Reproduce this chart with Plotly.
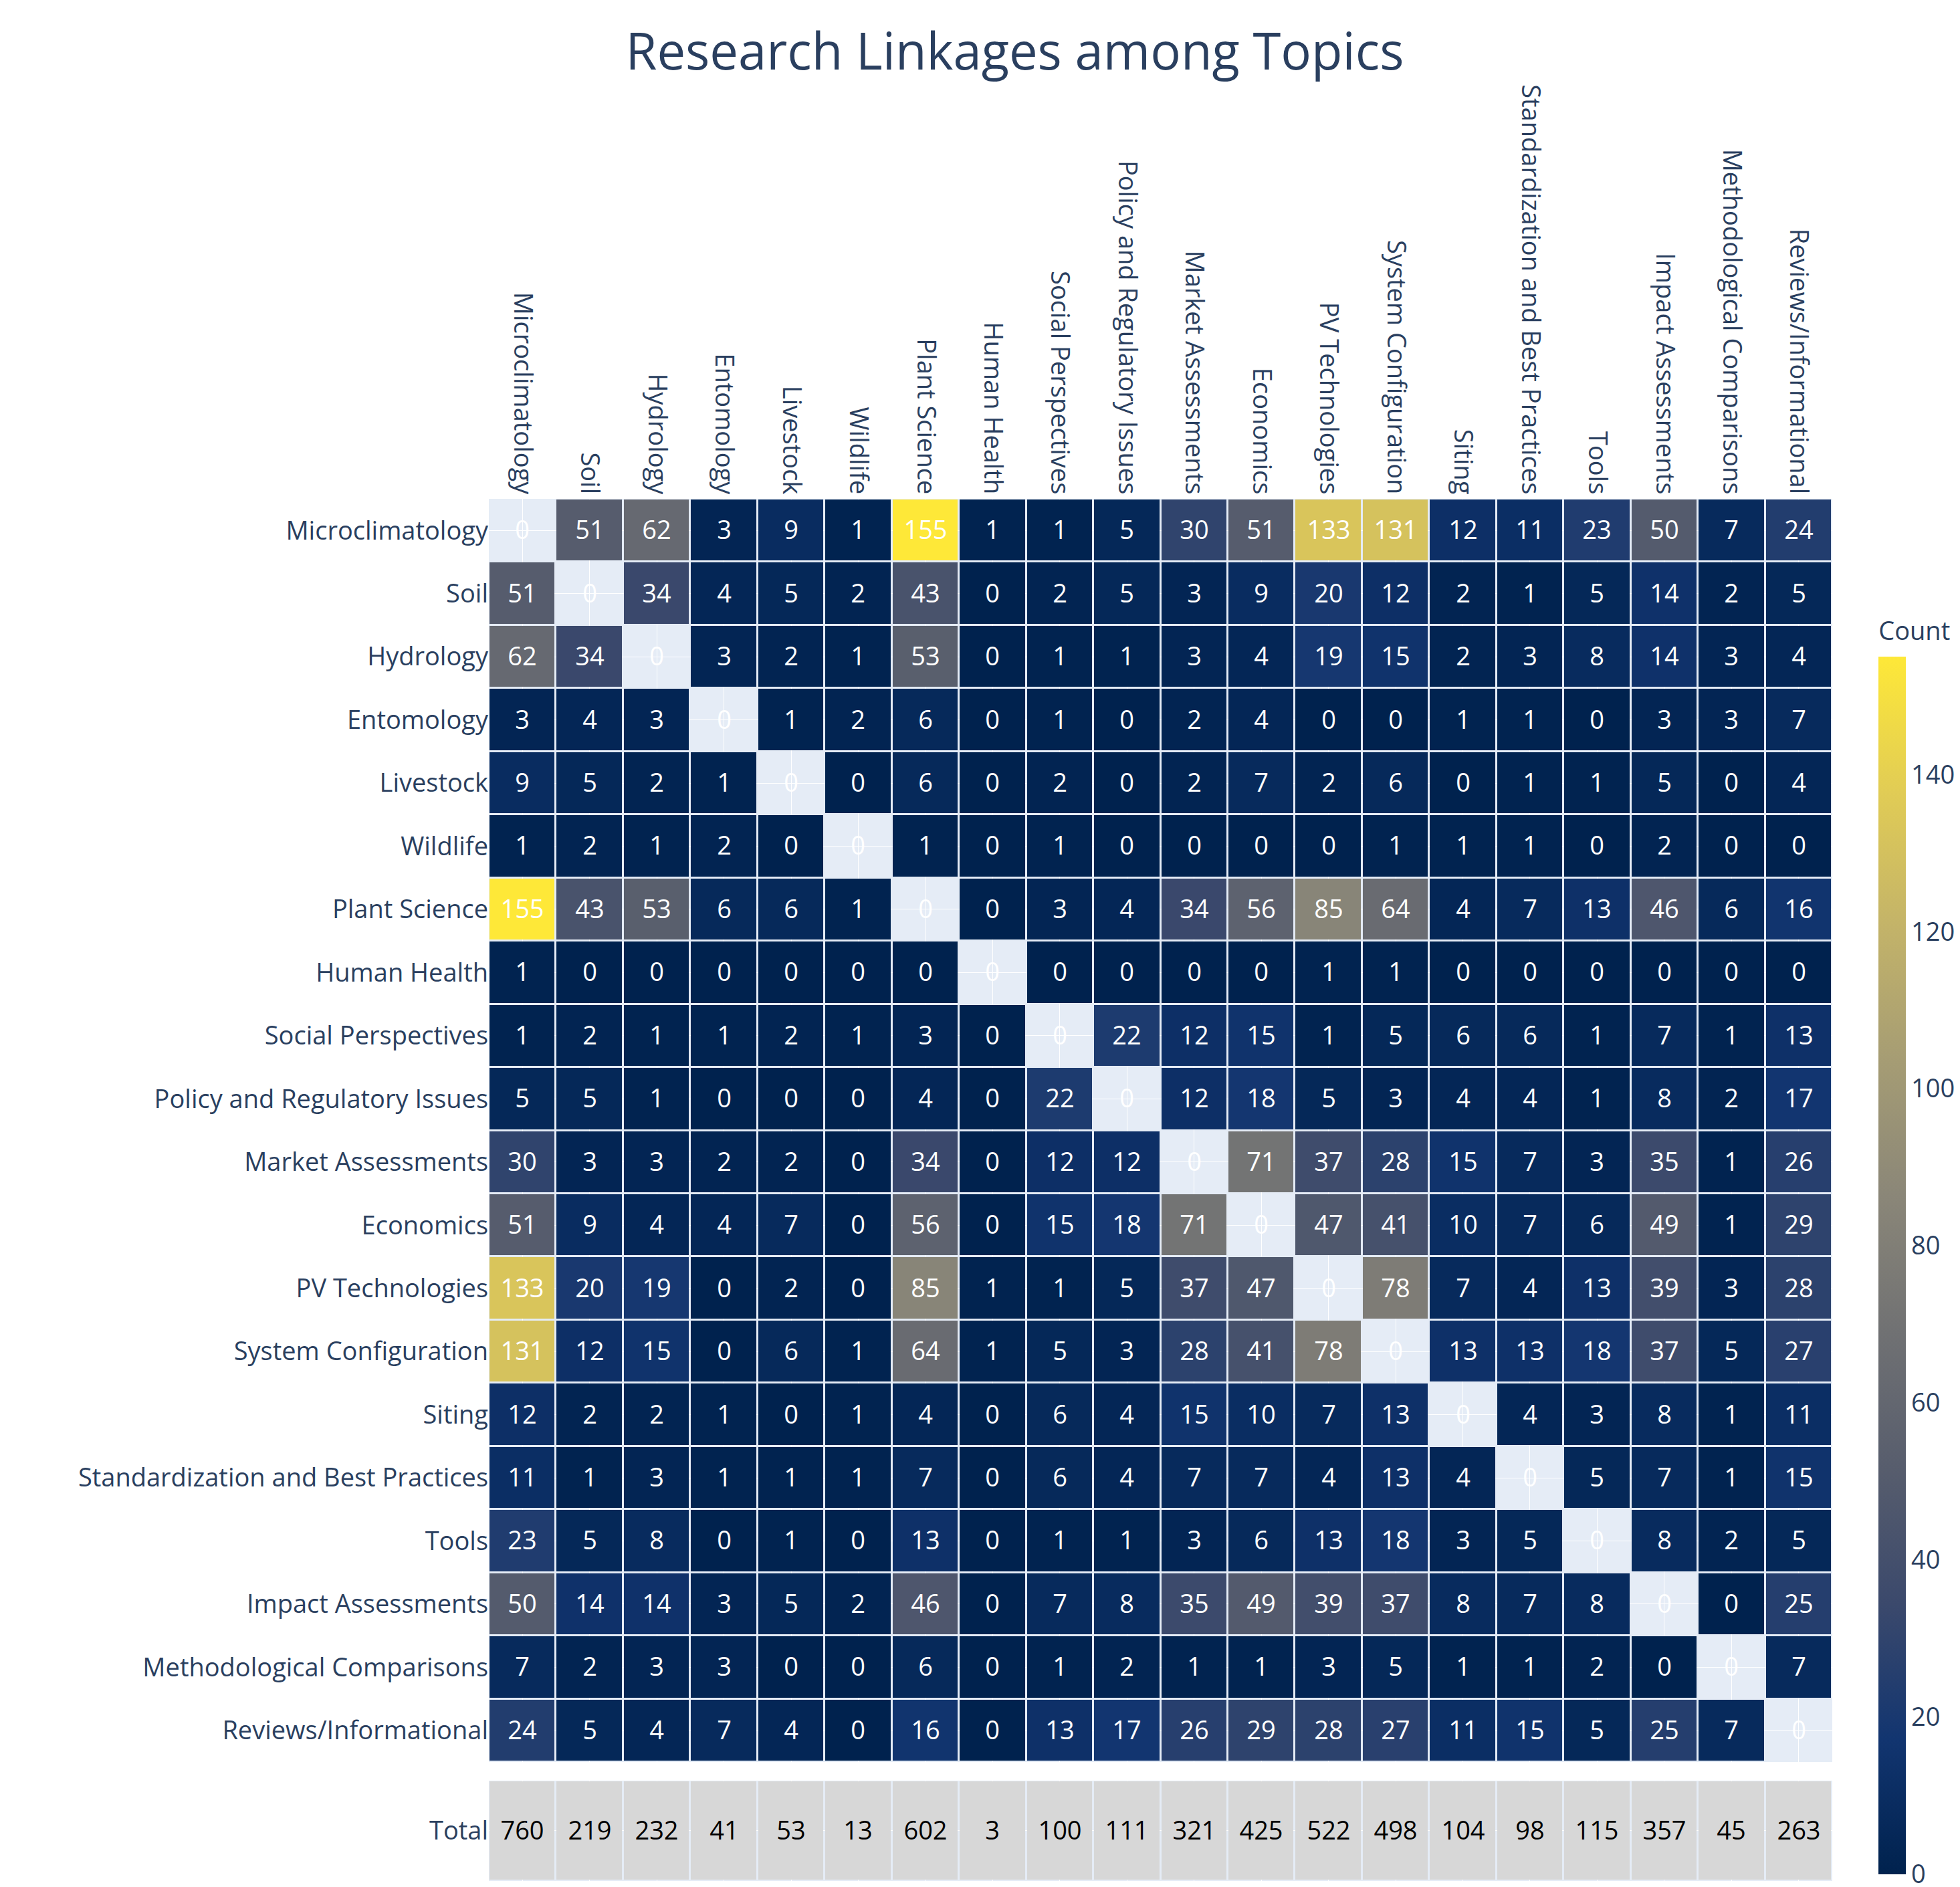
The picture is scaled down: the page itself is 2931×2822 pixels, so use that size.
import plotly.graph_objects as go
from plotly.subplots import make_subplots

topics = ["Microclimatology", "Soil", "Hydrology", "Entomology", "Livestock", "Wildlife",
          "Plant Science", "Human Health", "Social Perspectives", "Policy and Regulatory Issues",
          "Market Assessments", "Economics", "PV Technologies", "System Configuration", "Siting",
          "Standardization and Best Practices", "Tools", "Impact Assessments",
          "Methodological Comparisons", "Reviews/Informational"]

counts = [
    [0, 51, 62, 3, 9, 1, 155, 1, 1, 5, 30, 51, 133, 131, 12, 11, 23, 50, 7, 24],
    [51, 0, 34, 4, 5, 2, 43, 0, 2, 5, 3, 9, 20, 12, 2, 1, 5, 14, 2, 5],
    [62, 34, 0, 3, 2, 1, 53, 0, 1, 1, 3, 4, 19, 15, 2, 3, 8, 14, 3, 4],
    [3, 4, 3, 0, 1, 2, 6, 0, 1, 0, 2, 4, 0, 0, 1, 1, 0, 3, 3, 7],
    [9, 5, 2, 1, 0, 0, 6, 0, 2, 0, 2, 7, 2, 6, 0, 1, 1, 5, 0, 4],
    [1, 2, 1, 2, 0, 0, 1, 0, 1, 0, 0, 0, 0, 1, 1, 1, 0, 2, 0, 0],
    [155, 43, 53, 6, 6, 1, 0, 0, 3, 4, 34, 56, 85, 64, 4, 7, 13, 46, 6, 16],
    [1, 0, 0, 0, 0, 0, 0, 0, 0, 0, 0, 0, 1, 1, 0, 0, 0, 0, 0, 0],
    [1, 2, 1, 1, 2, 1, 3, 0, 0, 22, 12, 15, 1, 5, 6, 6, 1, 7, 1, 13],
    [5, 5, 1, 0, 0, 0, 4, 0, 22, 0, 12, 18, 5, 3, 4, 4, 1, 8, 2, 17],
    [30, 3, 3, 2, 2, 0, 34, 0, 12, 12, 0, 71, 37, 28, 15, 7, 3, 35, 1, 26],
    [51, 9, 4, 4, 7, 0, 56, 0, 15, 18, 71, 0, 47, 41, 10, 7, 6, 49, 1, 29],
    [133, 20, 19, 0, 2, 0, 85, 1, 1, 5, 37, 47, 0, 78, 7, 4, 13, 39, 3, 28],
    [131, 12, 15, 0, 6, 1, 64, 1, 5, 3, 28, 41, 78, 0, 13, 13, 18, 37, 5, 27],
    [12, 2, 2, 1, 0, 1, 4, 0, 6, 4, 15, 10, 7, 13, 0, 4, 3, 8, 1, 11],
    [11, 1, 3, 1, 1, 1, 7, 0, 6, 4, 7, 7, 4, 13, 4, 0, 5, 7, 1, 15],
    [23, 5, 8, 0, 1, 0, 13, 0, 1, 1, 3, 6, 13, 18, 3, 5, 0, 8, 2, 5],
    [50, 14, 14, 3, 5, 2, 46, 0, 7, 8, 35, 49, 39, 37, 8, 7, 8, 0, 0, 25],
    [7, 2, 3, 3, 0, 0, 6, 0, 1, 2, 1, 1, 3, 5, 1, 1, 2, 0, 0, 7],
    [24, 5, 4, 7, 4, 0, 16, 0, 13, 17, 26, 29, 28, 27, 11, 15, 5, 25, 7, 0],
]

totals = [760, 219, 232, 41, 53, 13, 602, 3, 100, 111, 321, 425, 522, 498, 104, 98, 115, 357, 45, 263]

# diagonal left empty (shows background), but labelled 0
z = [[None if i == j else v for j, v in enumerate(row)] for i, row in enumerate(counts)]
txt = [[str(v) for v in row] for row in counts]

fig = make_subplots(rows=2, cols=1, shared_xaxes=False, vertical_spacing=0.0)

fig.add_trace(go.Heatmap(
    z=z, x=topics, y=topics, text=txt, texttemplate="%{text}",
    textfont=dict(size=38, color="white"),
    colorscale="Cividis", zmin=0, zmax=155, xgap=3, ygap=3,
    colorbar=dict(title=dict(text="Count", side="top", font=dict(size=38)),
                  tickfont=dict(size=38), thickness=41, len=0.918,
                  y=0, yanchor="bottom", x=1.03, xanchor="left",
                  outlinewidth=0, tickvals=[0, 20, 40, 60, 80, 100, 120, 140]),
    hoverongaps=False,
), row=1, col=1)

fig.add_trace(go.Heatmap(
    z=[[0] * len(totals)], x=topics, y=["Total"], text=[[str(t) for t in totals]],
    texttemplate="%{text}", textfont=dict(size=38, color="black"),
    colorscale=[[0, "#d7d7d7"], [1, "#d7d7d7"]], showscale=False, xgap=3, ygap=3,
), row=2, col=1)

fig.update_layout(
    width=2931, height=2822,
    margin=dict(l=723, r=197, t=738, b=17),
    title=dict(text="Research Linkages among Topics", x=0.515, xanchor="center",
               y=0.985, yanchor="top", font=dict(size=76, color="#2a3f5f")),
    font=dict(size=38, color="#2a3f5f"),
)
fig.update_xaxes(side="top", tickangle=90, tickfont=dict(size=38), domain=[0, 1], row=1, col=1)
fig.update_yaxes(autorange="reversed", tickfont=dict(size=38), domain=[0.0861, 1], row=1, col=1)
fig.update_xaxes(showticklabels=False, domain=[0, 1], row=2, col=1)
fig.update_yaxes(tickfont=dict(size=38), domain=[0, 0.0726], row=2, col=1)

fig.write_html("out.html")
